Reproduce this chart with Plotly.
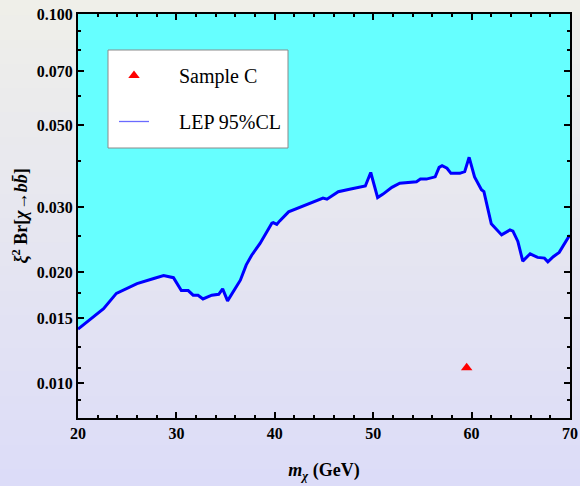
import plotly.graph_objects as go
import math

# ---- data ----
mass = [20, 22.6, 23.9, 26.0, 27.7, 28.7, 29.7, 30.5, 31.2, 31.7, 32.2, 32.7, 33.6, 34.3,
        34.7, 35.2, 36.5, 37.1, 37.65, 38.5, 39.7, 39.85, 40.2, 40.5, 41.4, 43.2, 44.3,
        44.9, 45.3, 46.45, 47.6, 49.2, 49.75, 50.45, 51.0, 51.9, 52.7, 54.4, 54.8, 55.4,
        56.3, 56.7, 57.0, 57.5, 57.9, 58.8, 59.3, 59.75, 60.3, 61.0, 61.25, 62.0, 63.05,
        63.9, 64.2, 64.7, 65.2, 65.95, 66.7, 67.4, 67.75, 68.3, 68.9, 69.45, 69.9, 70]
lep_limit = [0.0140, 0.0159, 0.0175, 0.0186, 0.0192, 0.01955, 0.0193, 0.0178, 0.0178, 0.0173,
             0.0173, 0.0169, 0.0173, 0.0174, 0.0180, 0.0167, 0.0190, 0.0209, 0.0222, 0.0239,
             0.0271, 0.0272, 0.0269, 0.0275, 0.0291, 0.0304, 0.0312, 0.0317, 0.0315, 0.0330,
             0.0335, 0.0342, 0.0372, 0.0318, 0.0325, 0.0339, 0.0348, 0.0351, 0.0357, 0.0357,
             0.0362, 0.0384, 0.0388, 0.0382, 0.0370, 0.0370, 0.0374, 0.0409, 0.0362, 0.0334,
             0.0330, 0.0270, 0.0252, 0.0260, 0.0258, 0.0242, 0.0214, 0.0224, 0.0219, 0.0218,
             0.0213, 0.0220, 0.0226, 0.0239, 0.0250, 0.0250]
sample_mass = [59.5]
sample_value = [0.0110]
series_names = ["Sample C", "LEP 95%CL"]

x_range = [20, 70]
x_major = [20, 30, 40, 50, 60, 70]
y_min, y_max = 0.00804, 0.100
y_major = [0.010, 0.015, 0.020, 0.030, 0.050, 0.070, 0.100]
y_major_text = ["0.010", "0.015", "0.020", "0.030", "0.050", "0.070", "0.100"]
y_minor = [0.009, 0.011, 0.0125, 0.0175, 0.025, 0.04, 0.06, 0.08, 0.09]

pad = "\u00a0" * 5  # gap between legend symbol and text

fig = go.Figure()

# top boundary for fill
fig.add_trace(go.Scatter(x=x_range, y=[y_max, y_max], mode="lines",
                         line=dict(width=0, color="rgba(0,0,0,0)"),
                         showlegend=False, hoverinfo="skip"))
# excluded region + curve
fig.add_trace(go.Scatter(x=mass, y=lep_limit, mode="lines", fill="tonexty",
                         fillcolor="#66ffff", line=dict(color="#0000ff", width=3),
                         showlegend=False))
# sample point
fig.add_trace(go.Scatter(x=sample_mass, y=sample_value, mode="markers",
                         name=pad + series_names[0],
                         marker=dict(symbol="triangle-up", size=10, color="#ff0000"),
                         legendgroup="a"))
# legend entry for LEP line
fig.add_trace(go.Scatter(x=[None], y=[None], mode="lines", name=pad + series_names[1],
                         line=dict(color="#6a6aff", width=1.3), legendgroup="b"))

# page geometry
W, H = 580, 486
ml, mr, mt, mb = 78, 10, 14, 68
pw, ph = W - ml - mr, H - mt - mb


def px_x(px):
    return (px - ml) / pw


def px_y(py):
    return (H - mb - py) / ph


# background gradient bands
top_c = (239, 239, 233)
bot_c = (220, 220, 248)
nb = 60
shapes = []
for i in range(nb):
    py0 = H * i / nb
    py1 = H * (i + 1) / nb
    t = (i + 0.5) / nb
    c = tuple(round(top_c[k] + (bot_c[k] - top_c[k]) * t) for k in range(3))
    shapes.append(dict(type="rect", xref="paper", yref="paper",
                       x0=px_x(-5), x1=px_x(W + 5),
                       y0=px_y(py1) - 0.002, y1=px_y(py0) + 0.002,
                       fillcolor="rgb(%d,%d,%d)" % c, line=dict(width=0), layer="below"))

# legend box
shapes.append(dict(type="rect", xref="paper", yref="paper",
                   x0=px_x(108), x1=px_x(288), y0=px_y(148), y1=px_y(50),
                   fillcolor="white", line=dict(color="#8a8a8a", width=1), layer="above"))

tickfont = dict(family="Liberation Serif", size=16, color="black", weight="bold")
titlefont = dict(family="Liberation Serif", size=18, color="black")

fig.update_layout(
    width=W, height=H,
    margin=dict(l=ml, r=mr, t=mt, b=mb, autoexpand=False),
    paper_bgcolor="rgb(230,230,240)",
    plot_bgcolor="rgba(0,0,0,0)",
    shapes=shapes,
    showlegend=True,
    legend=dict(x=px_x(114), y=px_y(56), xanchor="left", yanchor="top",
                bgcolor="rgba(0,0,0,0)", borderwidth=0,
                font=dict(family="Liberation Serif", size=20, color="black"),
                itemwidth=30, tracegroupgap=17),
    xaxis=dict(range=x_range, tickmode="array", tickvals=x_major,
               ticks="inside", ticklen=6, tickwidth=2, tickcolor="black",
               showline=True, linecolor="black", linewidth=2, mirror="ticks",
               showgrid=False, zeroline=False, automargin=False,
               tickfont=tickfont,
               minor=dict(dtick=2, tick0=20, ticks="inside", ticklen=3, tickwidth=1.5,
                          tickcolor="black", showgrid=False),
               title=dict(text="<b><i>m</i><sub><i>χ</i></sub> (GeV)</b>",
                          font=titlefont, standoff=22)),
    yaxis=dict(type="log", range=[math.log10(y_min), math.log10(y_max)],
               tickmode="array", tickvals=y_major, ticktext=y_major_text,
               ticks="inside", ticklen=6, tickwidth=2, tickcolor="black",
               showline=True, linecolor="black", linewidth=2, mirror="ticks",
               showgrid=False, zeroline=False, automargin=False,
               tickfont=tickfont,
               minor=dict(tickvals=y_minor, ticks="inside", ticklen=3, tickwidth=1.5,
                          tickcolor="black", showgrid=False),
               title=dict(text="<b><i>ξ</i><sup>2</sup> Br[<i>χ</i>→<i>b</i><i>b̄</i>]</b>",
                          font=titlefont, standoff=4)),
)

fig.write_html("out.html")
